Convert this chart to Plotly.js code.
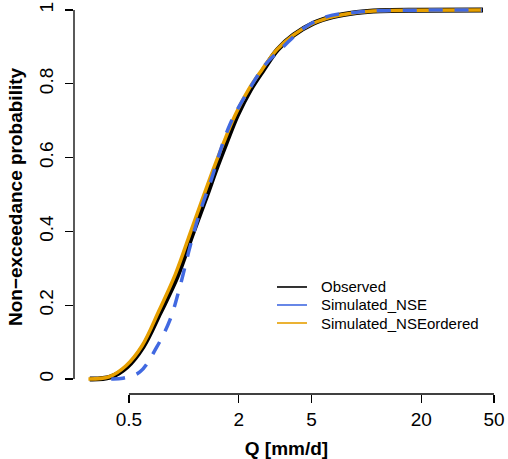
<!DOCTYPE html>
<html>
<head>
<meta charset="utf-8">
<script src="https://cdn.plot.ly/plotly-3.0.1.min.js"></script>
<style>html,body{margin:0;padding:0;background:#fff;}#chart{width:508px;height:459px;}</style>
</head>
<body>
<div id="chart"></div>
<script>
// Observed
const obsQ = [0.305, 0.394, 0.488, 0.597, 0.740, 0.916, 1.12, 1.327, 1.50, 1.70, 1.96, 2.31, 2.72, 3.25, 3.99, 5.12, 6.58, 8.85, 11.87, 19.7, 43.5];
const obsP = [0, 0.005, 0.033, 0.087, 0.179, 0.276, 0.396, 0.494, 0.568, 0.638, 0.714, 0.783, 0.837, 0.892, 0.932, 0.964, 0.982, 0.993, 0.998, 0.9995, 1.0];
// Simulated_NSE
const nseQ = [0.40, 0.463, 0.574, 0.711, 0.839, 0.95, 1.08, 1.22, 1.39, 1.788, 2.30, 2.78, 3.50, 4.51, 6.06, 8.85, 11.87, 19.7, 43.0];
const nseP = [0, 0.002, 0.019, 0.087, 0.160, 0.249, 0.358, 0.450, 0.530, 0.690, 0.788, 0.851, 0.900, 0.950, 0.982, 0.994, 0.998, 0.9995, 1.0];
// Simulated_NSEordered
const ordQ = [0.30, 0.39, 0.48, 0.59, 0.73, 0.90, 1.10, 1.277, 1.448, 1.643, 1.905, 2.252, 2.668, 3.223, 3.975, 5.115, 6.58, 8.85, 11.87, 19.7, 43.0];
const ordP = [0, 0.006, 0.035, 0.090, 0.185, 0.285, 0.405, 0.494, 0.568, 0.638, 0.714, 0.783, 0.837, 0.892, 0.932, 0.964, 0.982, 0.993, 0.998, 0.9995, 1.0];

const seriesNames = ['Observed', 'Simulated_NSE', 'Simulated_NSEordered'];
const xTicks = [0.5, 2, 5, 20, 50];
const xTickText = ['0.5', '2', '5', '20', '50'];
const yTicks = [0, 0.2, 0.4, 0.6, 0.8, 1];
const yTickText = ['0', '0.2', '0.4', '0.6', '0.8', '1'];

const FONT = 'Liberation Sans, Arial, Helvetica, sans-serif';
const BLACK = '#000000', BLUE = '#4169e1', ORANGE = '#e69f00';
const colors = [BLACK, BLUE, ORANGE];

const traces = [
  {x: obsQ, y: obsP, mode: 'lines', line: {color: BLACK, width: 5, shape: 'spline'}, name: seriesNames[0]},
  {x: ordQ, y: ordP, mode: 'lines', line: {color: ORANGE, width: 3.5, shape: 'spline'}, name: seriesNames[2]},
  {x: nseQ, y: nseP, mode: 'lines', line: {color: BLUE, width: 3.5, dash: '14px,12px', shape: 'spline'}, name: seriesNames[1]}
];

// Manual legend (R-style, compact rows)
const legX0 = 0.4776, legX1 = 0.5482, legTextX = 0.5765;
const legRowsY = [0.2716, 0.2259, 0.1802];
const legendShapes = seriesNames.map((n, i) => ({
  type: 'line', xref: 'paper', yref: 'paper', x0: legX0, x1: legX1, y0: legRowsY[i], y1: legRowsY[i],
  line: {color: colors[i], width: 1.6}
}));
const legendAnn = seriesNames.map((n, i) => ({
  text: n, xref: 'paper', yref: 'paper', x: legTextX, y: legRowsY[i], xanchor: 'left', yanchor: 'middle',
  showarrow: false, font: {family: FONT, size: 15, color: '#000'}
}));

const layout = {
  width: 508, height: 459,
  margin: {l: 74, r: 9, t: 0, b: 65},
  paper_bgcolor: '#fff', plot_bgcolor: '#fff',
  font: {family: FONT, size: 19, color: '#000'},
  showlegend: false,
  xaxis: {type: 'log', range: [-0.602, 1.7264], tickvals: xTicks, ticktext: xTickText,
          ticks: 'outside', ticklen: 8, tickwidth: 1.3, tickcolor: '#000',
          showgrid: false, zeroline: false, showline: false,
          tickfont: {family: FONT, size: 19}, ticklabelstandoff: 0,
          title: {text: '<b>Q [mm/d]</b>', font: {family: FONT, size: 19}, standoff: 12}},
  yaxis: {range: [-0.0407, 1.0271], tickvals: yTicks, ticktext: yTickText, tickangle: -90,
          ticks: 'outside', ticklen: 8, tickwidth: 1.3, tickcolor: '#000',
          showgrid: false, zeroline: false, showline: false,
          tickfont: {family: FONT, size: 19}, ticklabelstandoff: 4,
          title: {text: '<b>Non\u2212exceedance probability</b>', font: {family: FONT, size: 19}, standoff: 8}},
  shapes: [
    {type: 'line', xref: 'x', yref: 'paper', x0: xTicks[0], x1: xTicks[xTicks.length - 1], y0: 0, y1: 0,
     line: {color: '#000', width: 1.3}},
    {type: 'line', xref: 'paper', yref: 'y', x0: 0, x1: 0, y0: yTicks[0], y1: yTicks[yTicks.length - 1],
     line: {color: '#000', width: 1.3}}
  ].concat(legendShapes),
  annotations: legendAnn
};

Plotly.newPlot('chart', traces, layout, {displayModeBar: false, staticPlot: true});
</script>
</body>
</html>
